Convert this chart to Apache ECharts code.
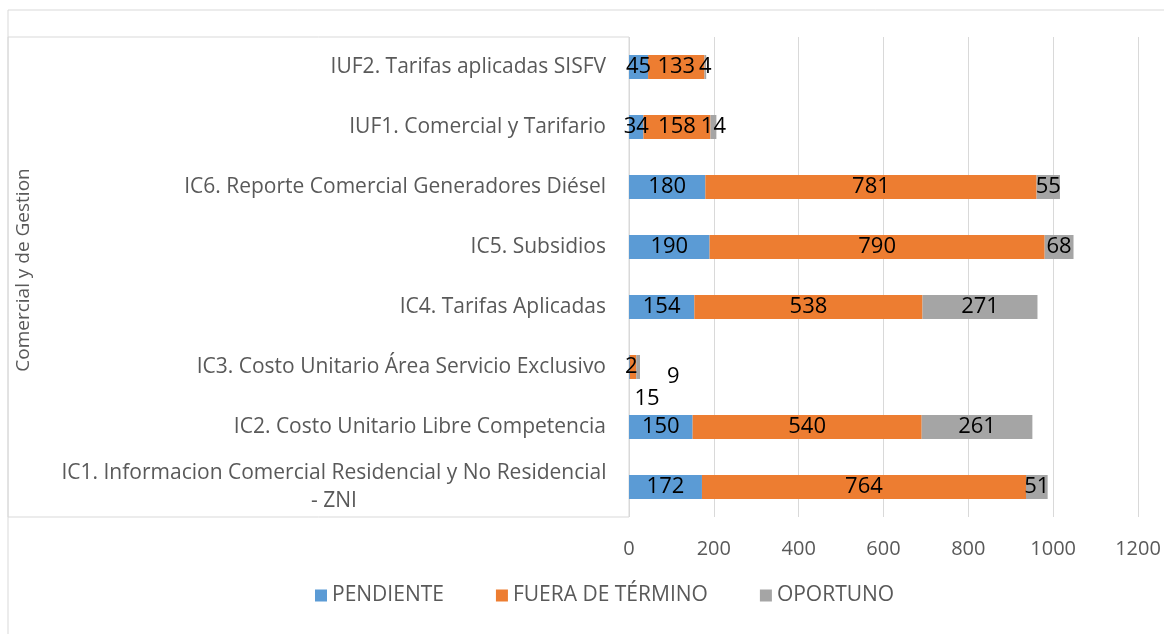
<!DOCTYPE html>
<html>
<head>
<meta charset="utf-8">
<script src="https://cdn.jsdelivr.net/npm/echarts@6/dist/echarts.min.js"></script>
<style>
  html, body { margin: 0; padding: 0; background: #fff; }
  #chart { width: 1164px; height: 634px; }
</style>
</head>
<body>
<div id="chart"></div>
<script>
// categories, bottom to top as in the picture
const categories = [
  'IC1. Informacion Comercial Residencial y No Residencial\n- ZNI',
  'IC2. Costo Unitario Libre Competencia',
  'IC3. Costo Unitario Área Servicio Exclusivo',
  'IC4. Tarifas Aplicadas',
  'IC5. Subsidios',
  'IC6. Reporte Comercial Generadores Diésel',
  'IUF1. Comercial y Tarifario',
  'IUF2. Tarifas aplicadas SISFV'
];
const pendiente = [172, 150, 2, 154, 190, 180, 34, 45];
const fueraDeTermino = [764, 540, 15, 538, 790, 781, 158, 133];
const oportuno = [51, 261, 9, 271, 68, 55, 14, 4];
const groupName = 'Comercial y de Gestion';

const chart = echarts.init(document.getElementById('chart'));

const labelFont = { color: '#000', fontSize: 22, fontFamily: 'Open Sans' };

// small IC3 bar: labels are pushed outside like in the original
function withLabels(values, idx, extra) {
  return values.map((v, i) => i === idx ? { value: v, label: extra } : v);
}

const option = {
  animation: false,
  grid: { left: 629, right: 26, top: 37, bottom: 117 },
  legend: {
    bottom: 23,
    left: 310,
    itemWidth: 12,
    itemHeight: 12,
    itemGap: 52,
    icon: 'rect',
    textStyle: { color: '#595959', fontSize: 21, fontFamily: 'Open Sans' }
  },
  graphic: [
    { type: 'rect', shape: { x: 8, y: 10, width: 1170, height: 640 },
      style: { fill: 'none', stroke: '#d9d9d9', lineWidth: 1 } },
    { type: 'rect', shape: { x: 8, y: 37, width: 621, height: 480 },
      style: { fill: 'none', stroke: '#d9d9d9', lineWidth: 1 } },
    { type: 'text', x: 24, y: 270, rotation: Math.PI / 2,
      style: { text: groupName, fill: '#595959', fontSize: 19, fontFamily: 'Open Sans',
               align: 'center', verticalAlign: 'middle' } }
  ],
  xAxis: {
    type: 'value',
    min: 0,
    max: 1200,
    interval: 200,
    axisLine: { show: false },
    axisTick: { show: false },
    splitLine: { lineStyle: { color: '#d9d9d9', width: 1 } },
    axisLabel: { color: '#595959', fontSize: 20, fontFamily: 'Open Sans', margin: 22,
                 formatter: v => String(v) }
  },
  yAxis: {
    type: 'category',
    data: categories,
    axisLine: { show: false },
    axisTick: { show: false },
    axisLabel: {
      color: '#595959',
      fontSize: 21,
      fontFamily: 'Open Sans',
      margin: 23,
      lineHeight: 28,
      formatter: v => v.includes('\n')
        ? v.split('\n').map(l => '{w|' + l + '}').join('\n')
        : v,
      rich: { w: { width: 544, align: 'center', fontSize: 21, color: '#595959',
                   fontFamily: 'Open Sans', lineHeight: 28 } }
    }
  },
  series: [
    {
      name: 'PENDIENTE', type: 'bar', stack: 'total', barWidth: 24,
      itemStyle: { color: '#5B9BD5' },
      label: { show: true, position: 'inside', ...labelFont },
      data: withLabels(pendiente, 2, { position: 'insideLeft', offset: [-9, 0] })
    },
    {
      name: 'FUERA DE TÉRMINO', type: 'bar', stack: 'total', barWidth: 24,
      itemStyle: { color: '#ED7D31' },
      label: { show: true, position: 'inside', ...labelFont },
      data: withLabels(fueraDeTermino, 2, { position: 'bottom', offset: [14, 4] })
    },
    {
      name: 'OPORTUNO', type: 'bar', stack: 'total', barWidth: 24,
      itemStyle: { color: '#A5A5A5' },
      label: { show: true, position: 'inside', ...labelFont },
      data: withLabels(oportuno, 2, { position: 'right', offset: [22, 10] })
    }
  ]
};

chart.setOption(option);
</script>
</body>
</html>
